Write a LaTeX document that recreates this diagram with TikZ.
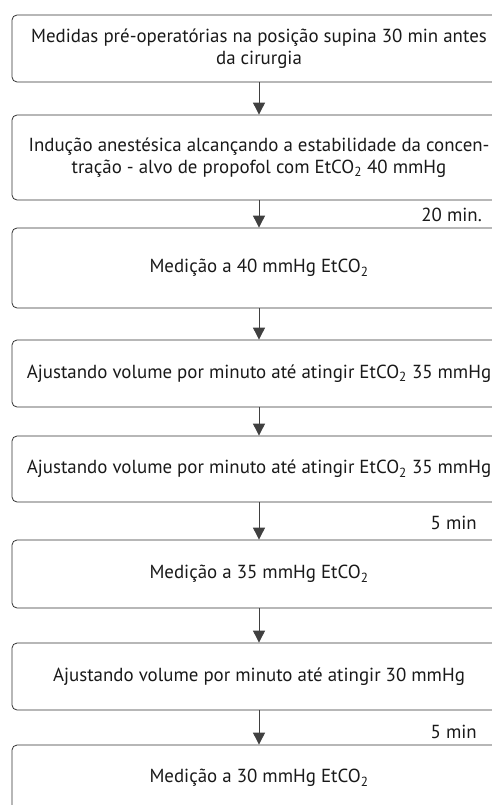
\documentclass[tikz,border=0pt]{standalone}
\usepackage{fontspec}
\setmainfont{PT Sans}
\usepackage{tikz}
\usetikzlibrary{arrows.meta}

\begin{document}
\begin{tikzpicture}[x=1pt,y=-1pt,
  font=\fontsize{18.9}{21.5}\selectfont,
  stepbox/.style={draw=black!80,line width=0.8pt,rounded corners=5pt,rectangle,
    minimum width=494pt,inner sep=0pt,align=center,text=black!90},
  arr/.style={draw=black!75,line width=0.9pt,-{Triangle[width=12pt,length=12pt]}},
  lbl/.style={anchor=east,inner sep=0pt,text=black!90}]
\useasboundingbox (0,0) rectangle (492,805);
\clip (0,0) rectangle (492,805);
\node[stepbox,minimum height=67pt] (b1) at (259,48.5)
   {Medidas pré-operatórias na posição supina 30 min antes\\da cirurgia};
\node[stepbox,minimum height=85pt] (b2) at (259,157.5)
   {Indução anestésica alcançando a estabilidade da concen-\\tração - alvo de propofol com EtCO\textsubscript{2} 40 mmHg};
\node[stepbox,minimum height=80pt] (b3) at (259,268) {Medição a 40 mmHg EtCO\textsubscript{2}};
\node[stepbox,minimum height=67pt] (b4) at (259,373.5)
   {Ajustando volume por minuto até atingir EtCO\textsubscript{2} 35 mmHg};
\node[stepbox,minimum height=66pt] (b5) at (259,469)
   {Ajustando volume por minuto até atingir EtCO\textsubscript{2} 35 mmHg};
\node[stepbox,minimum height=68pt] (b6) at (259,574) {Medição a 35 mmHg EtCO\textsubscript{2}};
\node[stepbox,minimum height=67pt] (b7) at (259,676.5)
   {Ajustando volume por minuto até atingir 30 mmHg};
\node[stepbox,minimum height=66pt] (b8) at (259,778) {Medição a 30 mmHg EtCO\textsubscript{2}};
\node[lbl] (t1) at (482,215) {20 min.};
\node[lbl] (t2) at (477,523) {5 min};
\node[lbl] (t3) at (477,732) {5 min};
\foreach \a/\b in {b1/b2,b2/b3,b3/b4,b4/b5,b5/b6,b6/b7,b7/b8} {
   \draw[arr] (\a) -- (\b);
}
\end{tikzpicture}
\end{document}
